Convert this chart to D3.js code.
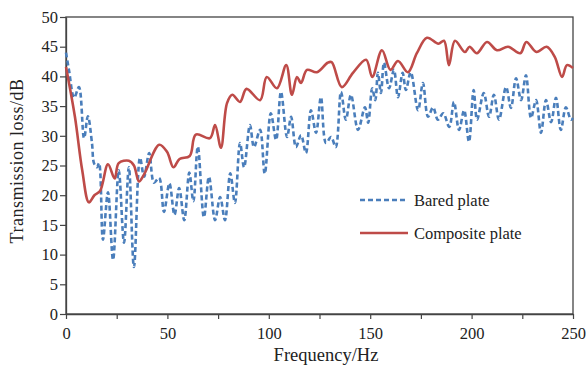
<!DOCTYPE html>
<html>
<head>
<meta charset="utf-8">
<script src="https://cdn.jsdelivr.net/npm/d3@7"></script>
<style>
  body { margin: 0; background: #fff; }
  text { font-family: "Liberation Serif", "DejaVu Serif", serif; fill: #222; }
</style>
</head>
<body>
<script>
//data
var bareHz = [0, 1.5, 4, 6.4, 8.9, 10.8, 12.8, 13.8, 15.3, 16.3, 18.2, 20.7, 23.2, 26, 28.6, 31, 33.5, 36.5, 38.5, 41, 43.4, 45.9, 48.3,
    51, 53.5, 55.8, 58.3, 60.8, 62.8, 65, 68, 70.5, 73.5, 76, 78.4, 81, 83.3, 85.8, 87.8, 90.7, 92.7, 95.7, 98,
    101, 103.6, 106, 109, 111, 113.4, 115.9, 118.3, 120.8, 123.3, 125.7, 128.2, 130.7, 133, 135.6, 138, 140.5, 144, 147.4, 149,
    151, 152.5, 153.8, 155.3, 156.8, 159.3, 161.7, 163.7, 166, 167.6, 170, 173.6, 176, 178.5, 181, 183.4, 186, 189, 191.3, 193.8, 196.3, 198.7,
    201, 202.7, 206, 208.6, 211, 213.5, 217, 219.4, 221.9, 224.4, 226.8, 229.3, 231.8, 234.2, 236.7, 239.2, 241.6, 244, 246.5, 249, 250];
var bareTL = [44, 41, 36.4, 38.2, 29.6, 33.3, 28.8, 25.4, 24.7, 25.4, 12.5, 20.5, 9.1, 24.2, 12, 24.7, 7.9, 26.3, 23.1, 27.1, 22.1, 22.9, 17.2,
    22, 16.7, 21.2, 15.8, 23.8, 19, 28.2, 16.3, 23.1, 15.8, 19.7, 15.8, 23.7, 18.7, 28.8, 24.7, 31.8, 28.1, 31, 23.6,
    33.8, 29.3, 37.4, 29.8, 33.2, 28.1, 30.1, 27.1, 34.3, 30.5, 36.5, 28.8, 29.8, 28.1, 37.4, 32.7, 36.9, 31, 34.8, 32.2,
    38, 36, 40.6, 37.2, 42.3, 38, 41.1, 36.5, 40.6, 37.7, 40.7, 34.3, 38.9, 33.2, 34.8, 32.7, 33.8, 31.5, 35.7, 31, 34.3, 29,
    37.7, 32.7, 37.2, 33.2, 36.9, 32.7, 38.2, 34.7, 39.7, 36, 40.2, 33, 36, 30.5, 36, 32.3, 36.4, 31, 34.8, 32.7, 33];

var compHz = [0, 4.4, 8, 11.3, 14, 16.8, 20.7, 24, 26, 31, 33.5, 36, 38.5, 46, 49.8, 53, 56, 61, 64, 71, 73.5, 76.4, 79.4, 82, 85.8, 89,
    95.7, 99, 104, 108.6, 111.4, 113.9, 115.9, 118.8, 123.7, 129, 131, 136, 141.5, 148, 151, 155.8, 160, 163.7, 168.6, 173, 178,
    183.6, 186.4, 188.8, 191.8, 196.7, 199, 202.6, 207.6, 212.5, 218, 224, 227, 232, 237, 241, 244.6, 247, 250];
var compTL = [41.6, 33.2, 24.2, 18.8, 20, 20.7, 25.2, 22.8, 25.4, 25.8, 25, 22.3, 23.5, 28.5, 27.3, 24.7, 26.1, 26.6, 30.2, 29.6, 31.8, 28, 35.5, 36.9, 35.7, 37.9,
    36, 39.9, 38, 41.9, 36.9, 39.9, 38.9, 41.1, 40.7, 42.3, 42.4, 38.2, 40.6, 42.8, 39.9, 44.4, 41.1, 42.6, 40.7, 43.9, 46.5,
    45.5, 46, 41.9, 46, 44.1, 45, 43.9, 45.8, 44.4, 45, 43.9, 45.8, 44.1, 45, 43.3, 39.9, 41.9, 41.4];

var xTicks = [0, 25, 50, 75, 100, 125, 150, 175, 200, 225, 250];
var yTicks = [0, 5, 10, 15, 20, 25, 30, 35, 40, 45, 50];
var seriesNames = ["Bared plate", "Composite plate"];
var seriesColors = ["#4a7ebb", "#be4b48"];

var width = 586, height = 368;
var plotLeft = 66, plotRight = 573, plotTop = 17, plotBottom = 314;

var svg = d3.select("body").append("svg")
    .attr("width", width)
    .attr("height", height);

var x = d3.scaleLinear().domain([0, 250]).range([plotLeft, plotRight]);
var y = d3.scaleLinear().domain([0, 50]).range([plotBottom, plotTop]);

//frame
svg.append("rect")
    .attr("x", plotLeft).attr("y", plotTop)
    .attr("width", plotRight - plotLeft).attr("height", plotBottom - plotTop)
    .attr("fill", "none").attr("stroke", "#444").attr("stroke-width", 1.3);

//axes
var xAxis = svg.append("g")
    .attr("transform", "translate(0," + plotBottom + ")")
    .call(d3.axisBottom(x).tickValues(xTicks).tickSize(5).tickSizeOuter(0)
        .tickFormat(function(d) { return d % 50 === 0 ? d : ""; }));
xAxis.select(".domain").attr("stroke", "#444").attr("stroke-width", 1.3);
xAxis.selectAll("line").attr("stroke", "#444").attr("stroke-width", 1.2);
xAxis.selectAll("text").attr("font-size", 16.5).attr("dy", "1.0em").attr("fill", "#222");

var yAxis = svg.append("g")
    .attr("transform", "translate(" + plotLeft + ",0)")
    .call(d3.axisLeft(y).tickValues(yTicks).tickSize(6).tickSizeOuter(0));
yAxis.select(".domain").attr("stroke", "#444").attr("stroke-width", 1.3);
yAxis.selectAll("line").attr("stroke", "#444").attr("stroke-width", 1.2);
yAxis.selectAll("text").attr("font-size", 16.5).attr("x", -8).attr("fill", "#222");

//axis titles
svg.append("text")
    .attr("x", 326).attr("y", 361)
    .attr("text-anchor", "middle").attr("font-size", 18.5)
    .text("Frequency/Hz");

svg.append("text")
    .attr("transform", "translate(23,161) rotate(-90)")
    .attr("text-anchor", "middle").attr("font-size", 18)
    .attr("letter-spacing", 0.5)
    .text("Transmission loss/dB");

//lines
var line = d3.line()
    .x(function(d) { return x(d[0]); })
    .y(function(d) { return y(d[1]); })
    .curve(d3.curveCatmullRom.alpha(0.5));

var bare = d3.zip(bareHz, bareTL);
var comp = d3.zip(compHz, compTL);

svg.append("path")
    .datum(bare)
    .attr("d", line)
    .attr("fill", "none")
    .attr("stroke", seriesColors[0])
    .attr("stroke-width", 2.6)
    .attr("stroke-dasharray", "5,3");

svg.append("path")
    .datum(comp)
    .attr("d", line)
    .attr("fill", "none")
    .attr("stroke", seriesColors[1])
    .attr("stroke-width", 2.6);

//legend
var legend = svg.append("g");
seriesNames.forEach(function(name, i) {
    var ly = 200 + i * 33;
    legend.append("line")
        .attr("x1", 360).attr("x2", 408)
        .attr("y1", ly).attr("y2", ly)
        .attr("stroke", seriesColors[i])
        .attr("stroke-width", 2.6)
        .attr("stroke-dasharray", i === 0 ? "5,3" : null);
    legend.append("text")
        .attr("x", 414).attr("y", ly)
        .attr("dy", "0.35em")
        .attr("font-size", 16.5)
        .text(name);
});
</script>
</body>
</html>
